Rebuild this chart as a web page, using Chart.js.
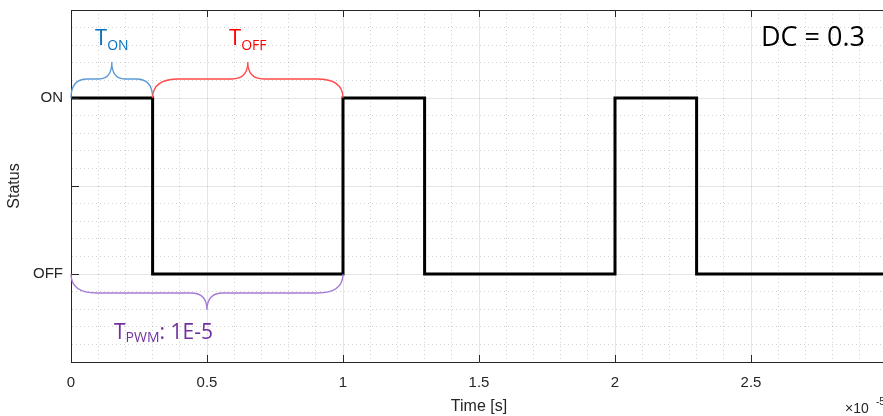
<!DOCTYPE html>
<html>
<head>
<meta charset="utf-8">
<script src="https://cdn.jsdelivr.net/npm/chart.js@4"></script>
<style>
    html, body { margin: 0; padding: 0; overflow: hidden; background: #fff; }
    canvas { display: block; }
</style>
</head>
<body>
<canvas id="pwmChart" width="900" height="416"></canvas>
<script>
// PWM signal, time in units of 1e-5 s
const timeVals = [0, 0.3, 1.0, 1.3, 2.0, 2.3, 3.0];
const statusVals = [1, 0, 1, 0, 1, 0, 0];

// status levels and their names on the y axis
const statusLevels = [0, 1];
const statusNames = ['OFF', 'ON'];

// braces marking the periods
const braceFrom = [0, 0.3, 0];
const braceTo = [0.3, 1.0, 1.0];
const braceLevel = [1, 1, 0];
const braceMain = ['T', 'T', 'T'];
const braceSub = ['ON', 'OFF', 'PWM'];
const braceTail = ['', '', ': 1E-5'];
const dutyText = 'DC = 0.3';

const AXIS_COLOR = '#262626';
const TICK_FONT = '"Liberation Sans", Arial, sans-serif';
const NOTE_FONT = '"Open Sans", "Noto Sans", sans-serif';

const isMajor = v => Math.abs(v * 2 - Math.round(v * 2)) < 1e-6;

// Brace styles: up/down, brace colour, text colour
const braceStyles = [
    { dir: -1, line: '#5B9BD5', text: '#0070C0' },
    { dir: -1, line: '#FF4B4B', text: '#FF0000' },
    { dir: 1, line: '#A57BD6', text: '#7030A0' }
];

function drawBrace(ctx, x1, x2, y0, dir) {
    const w = x2 - x1;
    const rEnd = Math.min(26, w * 0.2);
    const rMid = Math.min(16, w * 0.16);
    const ya = y0 + dir * 19;
    const yt = y0 + dir * 36;
    const xm = (x1 + x2) / 2;
    ctx.beginPath();
    ctx.moveTo(x1, y0);
    ctx.quadraticCurveTo(x1, ya, x1 + rEnd, ya);
    ctx.lineTo(xm - rMid, ya);
    ctx.quadraticCurveTo(xm, ya, xm, yt);
    ctx.quadraticCurveTo(xm, ya, xm + rMid, ya);
    ctx.lineTo(x2 - rEnd, ya);
    ctx.quadraticCurveTo(x2, ya, x2, y0);
    ctx.stroke();
}

// Draws "T" with a subscript and optional trailing text
function drawSubLabel(ctx, x, y, main, sub, tail, big, small, drop, align) {
    ctx.font = `${big}px ${NOTE_FONT}`;
    const wMain = ctx.measureText(main).width;
    const wTail = ctx.measureText(tail).width;
    ctx.font = `${small}px ${NOTE_FONT}`;
    const wSub = ctx.measureText(sub).width;
    const total = wMain + wSub + wTail;
    let left = align === 'center' ? x - total / 2 : x;
    ctx.textAlign = 'left';
    ctx.textBaseline = 'alphabetic';
    ctx.font = `${big}px ${NOTE_FONT}`;
    ctx.fillText(main, left, y);
    ctx.font = `${small}px ${NOTE_FONT}`;
    ctx.fillText(sub, left + wMain, y + drop);
    ctx.font = `${big}px ${NOTE_FONT}`;
    ctx.fillText(tail, left + wMain + wSub, y);
}

const annotations = {
    id: 'annotations',
    afterDraw(chart) {
        const { ctx, chartArea, scales: { x, y } } = chart;
        ctx.save();

        // top box edge
        ctx.strokeStyle = AXIS_COLOR;
        ctx.lineWidth = 1;
        ctx.beginPath();
        ctx.moveTo(chartArea.left, chartArea.top + 0.5);
        ctx.lineTo(chartArea.right, chartArea.top + 0.5);
        ctx.stroke();

        // inward tick marks at the major ticks
        ctx.beginPath();
        x.ticks.filter(t => isMajor(t.value)).forEach(t => {
            const px = Math.round(x.getPixelForValue(t.value)) + 0.5;
            ctx.moveTo(px, chartArea.bottom);
            ctx.lineTo(px, chartArea.bottom - 7);
            ctx.moveTo(px, chartArea.top);
            ctx.lineTo(px, chartArea.top + 7);
        });
        y.ticks.filter(t => isMajor(t.value)).forEach(t => {
            const py = Math.round(y.getPixelForValue(t.value)) + 0.5;
            ctx.moveTo(chartArea.left, py);
            ctx.lineTo(chartArea.left + 8, py);
        });
        ctx.stroke();

        // braces and their labels
        braceFrom.forEach((from, i) => {
            const st = braceStyles[i];
            const x1 = x.getPixelForValue(from);
            const x2 = x.getPixelForValue(braceTo[i]);
            const y0 = y.getPixelForValue(braceLevel[i]);
            ctx.strokeStyle = st.line;
            ctx.lineWidth = 1.3;
            drawBrace(ctx, x1, x2, y0, st.dir);
            ctx.fillStyle = st.text;
            if (st.dir < 0) {
                drawSubLabel(ctx, (x1 + x2) / 2, y0 - 53, braceMain[i], braceSub[i], braceTail[i], 22, 14, 5, 'center');
            } else {
                drawSubLabel(ctx, x1 + 43, y0 + 65, braceMain[i], braceSub[i], braceTail[i], 21, 14, 3, 'left');
            }
        });

        // duty cycle note
        ctx.fillStyle = '#000';
        ctx.font = `27px ${NOTE_FONT}`;
        ctx.textAlign = 'center';
        ctx.textBaseline = 'alphabetic';
        ctx.fillText(dutyText, 813, 46);

        // axis exponent
        ctx.fillStyle = AXIS_COLOR;
        ctx.textAlign = 'left';
        ctx.font = `14px ${TICK_FONT}`;
        ctx.fillText('\u00d710', 845, 413);
        ctx.font = `10px ${TICK_FONT}`;
        ctx.fillText('-5', 876, 405);

        ctx.restore();
    }
};

const gridColor = c => isMajor(c.tick.value) ? 'rgba(0,0,0,0.1)' : 'rgba(0,0,0,0.18)';
const gridDash = c => (c.tick && !isMajor(c.tick.value)) ? [1, 3] : [];

new Chart(document.getElementById('pwmChart'), {
    type: 'line',
    data: {
        datasets: [{
            data: timeVals.map((t, i) => ({ x: t, y: statusVals[i] })),
            stepped: true,
            borderColor: '#000',
            borderWidth: 3,
            borderJoinStyle: 'miter',
            pointRadius: 0,
            fill: false
        }]
    },
    options: {
        responsive: false,
        animation: false,
        layout: { padding: { top: 10, right: 13, left: 0, bottom: 0 } },
        plugins: {
            legend: { display: false },
            tooltip: { enabled: false }
        },
        scales: {
            x: {
                type: 'linear',
                min: 0,
                max: 3,
                afterFit: s => { s.height = 54; s.paddingLeft = 0; s.paddingRight = 0; },
                ticks: {
                    stepSize: 0.1,
                    autoSkip: false,
                    maxRotation: 0,
                    padding: 12,
                    color: AXIS_COLOR,
                    font: { size: 15, family: TICK_FONT },
                    callback: v => isMajor(v) ? String(Math.round(v * 10) / 10) : ''
                },
                grid: { drawTicks: false, lineWidth: 1, color: gridColor },
                border: { color: AXIS_COLOR, width: 1, dash: gridDash },
                title: {
                    display: true,
                    text: 'Time [s]',
                    color: AXIS_COLOR,
                    font: { size: 16, family: TICK_FONT },
                    padding: { top: 0, bottom: 0 }
                }
            },
            y: {
                min: -0.5,
                max: 1.5,
                afterFit: s => { s.width = 71; s.paddingTop = 0; s.paddingBottom = 0; },
                ticks: {
                    stepSize: 0.1,
                    autoSkip: false,
                    padding: 8,
                    color: AXIS_COLOR,
                    font: { size: 15, family: TICK_FONT },
                    callback: v => {
                        const k = statusLevels.findIndex(l => Math.abs(l - v) < 1e-6);
                        return k >= 0 ? statusNames[k] : '';
                    }
                },
                grid: { drawTicks: false, lineWidth: 1, color: gridColor },
                border: { color: AXIS_COLOR, width: 1, dash: gridDash },
                title: {
                    display: true,
                    text: 'Status',
                    color: AXIS_COLOR,
                    font: { size: 16, family: TICK_FONT },
                    padding: { top: 5, bottom: 0 }
                }
            }
        }
    },
    plugins: [annotations]
});
</script>
</body>
</html>
